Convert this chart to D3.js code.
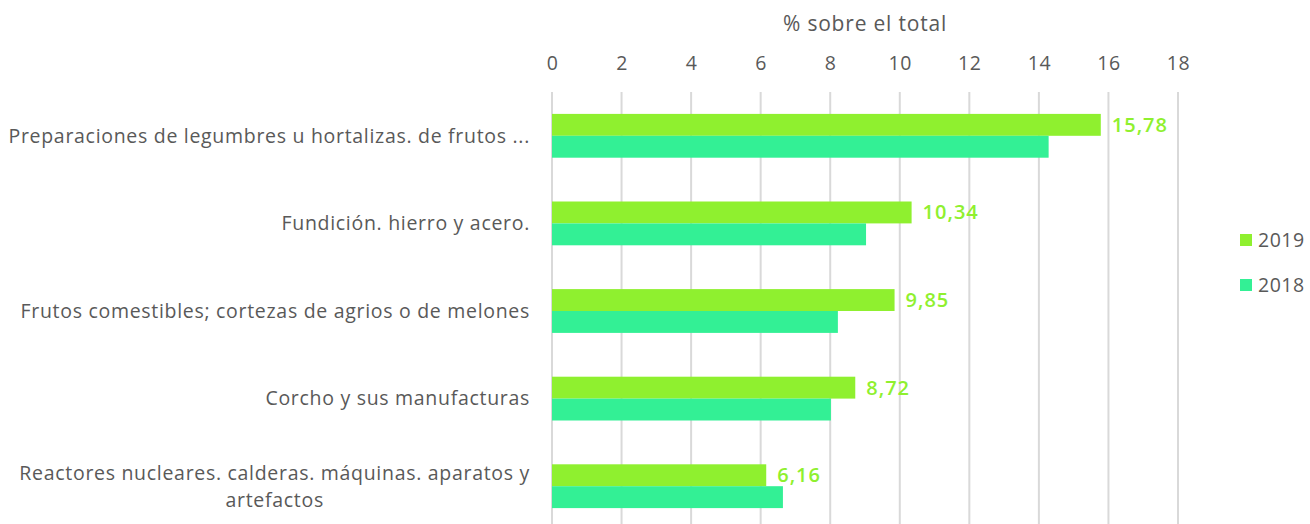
<!DOCTYPE html>
<html>
<head>
<meta charset="utf-8">
<script src="https://cdn.jsdelivr.net/npm/d3@7"></script>
<style>
  body { margin: 0; background: #fff; }
  svg text { font-family: "Open Sans", Lato, sans-serif; fill: #595959; }
</style>
</head>
<body>
<div class="chart"></div>
<script>
const categories = [
  ["Preparaciones de legumbres u hortalizas. de frutos ..."],
  ["Fundición. hierro y acero."],
  ["Frutos comestibles; cortezas de agrios o de melones"],
  ["Corcho y sus manufacturas"],
  ["Reactores nucleares. calderas. máquinas. aparatos y", "artefactos"]
];
const years = ["2019", "2018"];
const values2019 = [15.78, 10.34, 9.85, 8.72, 6.16];
const values2018 = [14.28, 9.03, 8.22, 8.02, 6.64];
const xTicks = [0, 2, 4, 6, 8, 10, 12, 14, 16, 18];
const axisTitle = "% sobre el total";

const colors = {"2019": "#8ff02f", "2018": "#33f095"};

const w = 1310, h = 524;
const margin = {top: 92, left: 552, right: 132, bottom: -6};

const svg = d3.select(".chart").append("svg")
  .attr("width", w)
  .attr("height", h);

const xScale = d3.scaleLinear()
  .domain([0, 18])
  .range([margin.left, w - margin.right]);

const yScale = d3.scaleBand()
  .domain(d3.range(categories.length))
  .range([margin.top, h - margin.bottom])
  .paddingInner(0.5)
  .paddingOuter(0.25);

const subScale = d3.scaleBand()
  .domain(years)
  .range([0, yScale.bandwidth()]);

// grid
svg.append("g")
  .selectAll("line")
  .data(xTicks)
  .enter().append("line")
  .attr("x1", d => xScale(d))
  .attr("x2", d => xScale(d))
  .attr("y1", margin.top)
  .attr("y2", h)
  .attr("stroke", "#d9d9d9")
  .attr("stroke-width", 2);

// top axis
let xaxis = svg.append("g")
  .attr("transform", "translate(0," + 70 + ")")
  .call(d3.axisTop(xScale).tickValues(xTicks).tickSize(0).tickPadding(0));
xaxis.select(".domain").remove();
xaxis.selectAll("text")
  .style("font-size", "19.5px")
  .style("font-family", "'Open Sans', sans-serif")
  .style("letter-spacing", "0.6px")
  .attr("fill", "#595959");

svg.append("text")
  .text(axisTitle)
  .attr("x", xScale(9))
  .attr("y", 31)
  .attr("text-anchor", "middle")
  .style("font-size", "21px")
  .style("letter-spacing", "0.8px");

const data = categories.map((c, i) => ({i: i, "2019": values2019[i], "2018": values2018[i]}));

const groups = svg.selectAll(".grp")
  .data(data)
  .enter().append("g")
  .attr("class", "grp")
  .attr("transform", d => "translate(0," + yScale(d.i) + ")");

years.forEach(yr => {
  groups.append("rect")
    .attr("x", xScale(0))
    .attr("y", subScale(yr))
    .attr("width", d => xScale(d[yr]) - xScale(0))
    .attr("height", subScale.bandwidth())
    .attr("fill", colors[yr]);
});

groups.append("text")
  .text(d => d3.format(".2f")(d["2019"]).replace(".", ","))
  .attr("x", d => xScale(d["2019"]) + 11)
  .attr("y", subScale("2019") + subScale.bandwidth() / 2)
  .attr("dy", "0.35em")
  .style("fill", colors["2019"])
  .style("font-weight", "600")
  .style("font-size", "20px")
  .style("letter-spacing", "1px");

// category labels
const labelSize = "19.5px";
const labelSpacing = "0.7px";
categories.forEach((lines, i) => {
  const cy = yScale(i) + yScale.bandwidth() / 2;
  if (lines.length === 1) {
    svg.append("text")
      .text(lines[0])
      .attr("x", 530)
      .attr("y", cy)
      .attr("dy", "0.35em")
      .attr("text-anchor", "end")
      .style("font-size", labelSize)
      .style("letter-spacing", labelSpacing);
  } else {
    const t = svg.append("text")
      .text(lines[0])
      .attr("x", 530)
      .attr("y", cy - 13)
      .attr("dy", "0.35em")
      .attr("text-anchor", "end")
      .style("font-size", labelSize)
      .style("letter-spacing", labelSpacing);
    const bb = t.node().getBBox();
    svg.append("text")
      .text(lines[1])
      .attr("x", bb.x + bb.width / 2)
      .attr("y", cy + 14)
      .attr("dy", "0.35em")
      .attr("text-anchor", "middle")
      .style("font-size", labelSize)
      .style("letter-spacing", labelSpacing);
  }
});

// legend
const legend = svg.selectAll(".legend")
  .data(years)
  .enter().append("g")
  .attr("transform", (d, i) => "translate(1240," + (240 + i * 45) + ")");

legend.append("rect")
  .attr("x", 0)
  .attr("y", -6)
  .attr("width", 12)
  .attr("height", 12)
  .attr("fill", d => colors[d]);

legend.append("text")
  .text(d => d)
  .attr("x", 18)
  .attr("dy", "0.35em")
  .style("font-size", "19.5px")
  .style("letter-spacing", "0.5px");
</script>
</body>
</html>
